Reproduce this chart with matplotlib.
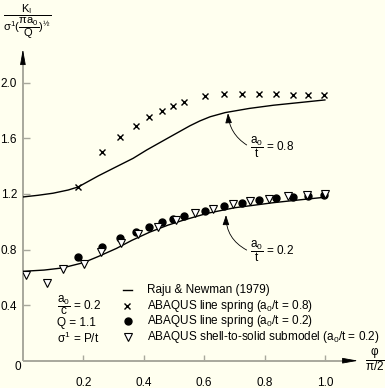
import matplotlib
matplotlib.use('Agg')
import matplotlib.pyplot as plt

plt.rcParams['font.family'] = ['Liberation Sans', 'DejaVu Sans']
plt.rcParams['mathtext.fontset'] = 'custom'
plt.rcParams['mathtext.rm'] = 'Liberation Sans'
plt.rcParams['mathtext.it'] = 'Liberation Sans'
plt.rcParams['mathtext.sf'] = 'Liberation Sans'

# Raju & Newman (1979), a0/t = 0.8
rn08_phi = [0.0, 0.05, 0.10, 0.15, 0.183, 0.25, 0.30, 0.365, 0.41, 0.487, 0.553, 0.586, 0.62, 0.67, 0.75, 0.83, 0.92, 1.0]
rn08_k = [1.178, 1.19, 1.205, 1.228, 1.25, 1.33, 1.385, 1.456, 1.516, 1.61, 1.69, 1.725, 1.755, 1.785, 1.815, 1.838, 1.858, 1.876]

# Raju & Newman (1979), a0/t = 0.2
rn02_phi = [0.0, 0.07, 0.13, 0.20, 0.25, 0.31, 0.36, 0.42, 0.48, 0.53, 0.61, 0.70, 0.83, 0.92, 1.0]
rn02_k = [0.643, 0.652, 0.667, 0.705, 0.75, 0.808, 0.865, 0.925, 0.975, 1.01, 1.06, 1.10, 1.137, 1.158, 1.176]

# ABAQUS line spring, both depths at the same angles
ls_phi = [0.183, 0.261, 0.3215, 0.3735, 0.4175, 0.4596, 0.498, 0.5344, 0.603, 0.667,
          0.7245, 0.783, 0.838, 0.893, 0.945, 0.998]
ls08_k = [1.2475, 1.5036, 1.6115, 1.686, 1.751, 1.799, 1.830, 1.863, 1.906, 1.919,
          1.919, 1.919, 1.919, 1.909, 1.909, 1.909]
ls02_k = [0.744, 0.82, 0.88, 0.928, 0.964, 0.996, 1.019, 1.043, 1.079, 1.113,
          1.137, 1.154, 1.170, 1.178, 1.185, 1.192]

# ABAQUS shell-to-solid submodel (a0/t = 0.2)
sub_phi = [0.01, 0.079, 0.134, 0.203, 0.259, 0.325, 0.382, 0.448, 0.507, 0.57, 0.63,
           0.695, 0.752, 0.816, 0.877, 0.94, 1.0]
sub_k = [0.617, 0.561, 0.657, 0.696, 0.784, 0.845, 0.912, 0.964, 1.012, 1.06, 1.091,
         1.127, 1.151, 1.165, 1.185, 1.194, 1.197]

x_ticks = [0.2, 0.4, 0.6, 0.8, 1.0]
y_ticks = [0.4, 0.8, 1.2, 1.6, 2.0]

legend_labels = ['Raju & Newman (1979)',
                 'ABAQUS line spring (a$_0$/t = 0.8)',
                 'ABAQUS line spring (a$_0$/t = 0.2)',
                 'ABAQUS shell-to-solid submodel (a$_0$/t = 0.2)']

bg = '#ffffef'
grey = '#a8a89c'
fs = 8.5

fig = plt.figure(figsize=(3.85, 3.88), dpi=100, facecolor=bg)
ax = fig.add_axes([22.9 / 385, 27.3 / 388, 362.4 / 385, 319.7 / 388])
ax.set_facecolor(bg)
ax.set_xlim(0, 1.2)
ax.set_ylim(0, 2.3)
for s in ax.spines.values():
    s.set_visible(False)

# axes with arrow heads
ax.plot([0, 1.07], [0, 0], color=grey, lw=1.4, clip_on=False, solid_capstyle='butt')
ax.plot([0, 0], [0, 2.16], color=grey, lw=1.4, clip_on=False, solid_capstyle='butt')
head = dict(arrowstyle='-|>,head_length=0.95,head_width=0.17', fc='k', ec='k', lw=0.6,
            shrinkA=0, shrinkB=0)
ax.annotate('', xy=(1.11, 0), xytext=(1.065, 0), arrowprops=head, annotation_clip=False)
ax.annotate('', xy=(0, 2.242), xytext=(0, 2.15), arrowprops=head, annotation_clip=False)

ax.set_xticks(x_ticks)
ax.set_xticklabels(['%.1f' % v for v in x_ticks])
ax.set_yticks(y_ticks)
ax.set_yticklabels(['%.1f' % v for v in y_ticks])
ax.tick_params(axis='both', direction='in', color=grey, width=1.0, labelsize=fs)
ax.tick_params(axis='y', length=5, pad=4.3)
ax.tick_params(axis='x', length=4.5, pad=11.5)
ax.text(-0.016, -0.045, '0', fontsize=fs, ha='center', va='center')

# data
ax.plot(rn08_phi, rn08_k, color='k', lw=1.0)
ax.plot(rn02_phi, rn02_k, color='k', lw=1.0)
ax.plot(ls_phi, ls08_k, 'x', color='k', ms=5, mew=1.0)
ax.plot(ls_phi, ls02_k, 'o', color='k', ms=5)
ax.plot(sub_phi, sub_k, 'v', mfc='white', mec='k', ms=5.5, mew=0.8)

# curve labels
arr = dict(arrowstyle='-|>,head_length=0.6,head_width=0.2', fc='k', ec='k', lw=0.6,
           shrinkA=0, shrinkB=0, connectionstyle='arc3,rad=-0.25')
ax.annotate('', xy=(0.679, 1.781), xytext=(0.741, 1.552), arrowprops=arr)
ax.text(0.752, 1.54, r'$\dfrac{a_0}{t}$ = 0.8', fontsize=fs, ha='left', va='center')
arr['connectionstyle'] = 'arc3,rad=-0.3'
ax.annotate('', xy=(0.6725, 1.048), xytext=(0.741, 0.796), arrowprops=arr)
ax.text(0.752, 0.785, r'$\dfrac{a_0}{t}$ = 0.2', fontsize=fs, ha='left', va='center')

# legend
ax.plot([0.332, 0.360], [0.507, 0.507], color='k', lw=1.0)
ax.plot([0.344], [0.393], 'x', color='k', ms=5, mew=1.0)
ax.plot([0.347], [0.288], 'o', color='k', ms=5)
ax.plot([0.349], [0.168], 'v', mfc='white', mec='k', ms=5.5, mew=0.8)
for lab, yy in zip(legend_labels, [0.507, 0.393, 0.289, 0.173]):
    ax.text(0.41, yy, lab, fontsize=fs, ha='left', va='center')

# parameters
ax.text(0.113, 0.401, r'$\dfrac{a_0}{c}$ = 0.2', fontsize=fs, ha='left', va='center')
ax.text(0.113, 0.271, 'Q = 1.1', fontsize=fs, ha='left', va='center')
ax.text(0.113, 0.163, r'$\sigma^1$ = P/t', fontsize=fs, ha='left', va='center')

# axis labels
ax.text(1.165, 0.01, r'$\dfrac{φ}{π/2}$', fontsize=fs, ha='center', va='center')
fig.text(27 / 385, 1 - 22 / 388,
         r'$\dfrac{K_I}{\sigma^1(\dfrac{\pi a_0}{Q})^{½}}$',
         fontsize=8, ha='center', va='center')

fig.savefig('out.png', dpi=100, facecolor=bg)
